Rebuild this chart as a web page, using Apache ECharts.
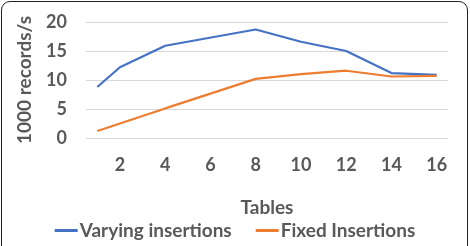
<!DOCTYPE html>
<html>
<head>
<meta charset="utf-8" />
<script src="https://cdn.jsdelivr.net/npm/echarts@6/dist/echarts.min.js"></script>
<style>
  html, body { margin: 0; padding: 0; background: #fff; }
  #frame { position: absolute; left: 1px; top: 1px; width: 465px; height: 260px;
           border: 1.5px solid #222; border-radius: 9px; }
  #main { position: absolute; left: 0; top: 0; width: 470px; height: 246px; }
</style>
</head>
<body>
<div id="frame"></div>
<div id="main"></div>
<script type="text/javascript">
    // x categories 1..16, only some have measurements
    var tables = ['1','2','3','4','5','6','7','8','9','10','11','12','13','14','15','16'];
    var varying = [8.8, 12.2, null, 15.9, null, null, null, 18.7, null, 16.6, null, 15.0, null, 11.2, null, 10.9];
    var fixed = [1.2, null, null, 5.1, null, null, null, 10.2, null, 11.0, null, 11.6, null, 10.6, null, 10.7];

    var myChart = echarts.init(document.getElementById('main'));
    var txt = '#595959';
    var fnt = 'Lato';

    option = {
        animation: false,
        grid: { left: 86, right: 22, top: 22, bottom: 108 },
        legend: {
            bottom: 1,
            left: 'center',
            itemWidth: 23,
            itemHeight: 3,
            itemGap: 24,
            icon: 'rect',
            textStyle: { color: txt, fontSize: 19, fontWeight: 'bold', fontFamily: fnt, padding: [0, 0, 0, -3] },
            data: ['Varying insertions', 'Fixed Insertions']
        },
        xAxis: {
            type: 'category',
            data: tables,
            boundaryGap: true,
            name: 'Tables',
            nameLocation: 'middle',
            nameGap: 60,
            nameTextStyle: { color: txt, fontSize: 19, fontWeight: 'bold', fontFamily: fnt },
            axisLine: { show: false },
            axisTick: { show: false },
            axisLabel: {
                color: txt, fontSize: 18, fontWeight: 'bold', fontFamily: fnt, margin: 18,
                interval: function (index) { return index % 2 === 1; }
            }
        },
        yAxis: {
            type: 'value',
            min: 0,
            max: 20,
            interval: 5,
            name: '1000 records/s',
            nameLocation: 'middle',
            nameGap: 52,
            nameTextStyle: { color: txt, fontSize: 19, fontWeight: 'bold', fontFamily: fnt },
            axisLine: { show: false },
            axisTick: { show: false },
            axisLabel: { color: txt, fontSize: 18, fontWeight: 'bold', fontFamily: fnt, margin: 19 },
            splitLine: { lineStyle: { color: '#d9d9d9', width: 1 } }
        },
        series: [
            {
                name: 'Varying insertions',
                type: 'line',
                data: varying,
                connectNulls: true,
                showSymbol: false,
                color: '#4472C4',
                lineStyle: { width: 2.2 }
            },
            {
                name: 'Fixed Insertions',
                type: 'line',
                data: fixed,
                connectNulls: true,
                showSymbol: false,
                color: '#ED7D31',
                lineStyle: { width: 2.2 }
            }
        ]
    };
    myChart.setOption(option);
</script>
</body>
</html>
